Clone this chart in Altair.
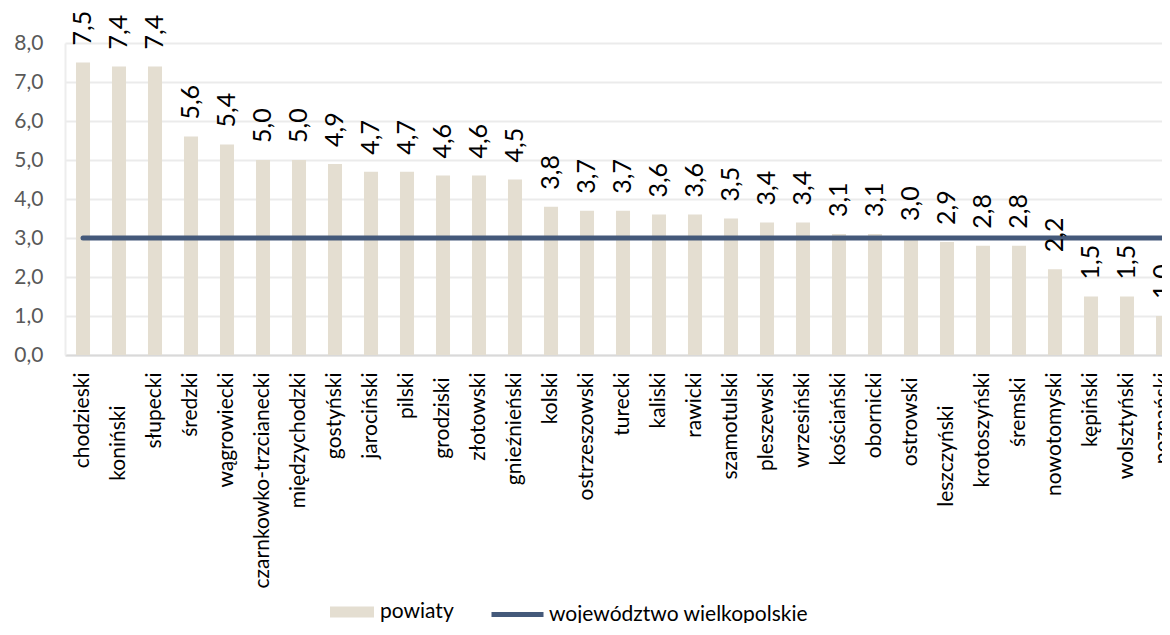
import altair as alt
import pandas as pd

powiaty = ["chodzieski", "koniński", "słupecki", "średzki", "wągrowiecki",
           "czarnkowko-trzcianecki", "międzychodzki", "gostyński", "jarociński",
           "pilski", "grodziski", "złotowski", "gnieźnieński", "kolski",
           "ostrzeszowski", "turecki", "kaliski", "rawicki", "szamotulski",
           "pleszewski", "wrzesiński", "kościański", "obornicki", "ostrowski",
           "leszczyński", "krotoszyński", "śremski", "nowotomyski", "kępiński",
           "wolsztyński", "poznański"]
wartosci = [7.5, 7.4, 7.4, 5.6, 5.4, 5.0, 5.0, 4.9, 4.7, 4.7, 4.6, 4.6, 4.5, 3.8,
            3.7, 3.7, 3.6, 3.6, 3.5, 3.4, 3.4, 3.1, 3.1, 3.0, 2.9, 2.8, 2.8, 2.2,
            1.5, 1.5, 1.0]
wojewodztwo = 3.0
y_ticks = [0, 1, 2, 3, 4, 5, 6, 7, 8]
seria_bar = "powiaty"
seria_line = "województwo wielkopolskie"

df = pd.DataFrame({
    "powiat": powiaty,
    "wartosc": wartosci,
    "woj": [wojewodztwo] * len(powiaty),
    "seria": [seria_bar] * len(powiaty),
    "seria_woj": [seria_line] * len(powiaty),
})

FONT = "Lato"
FS = 21
BAR = "#E4DED1"
LINE = "#44597A"

# category labels that sit lower in the original layout: (padding, names)
label_groups = [
    (17, None),
    (22, ["grodziski", "ostrowski", "śremski"]),
    (50, ["koniński", "leszczyński"]),
]
shifted = [n for _, g in label_groups if g for n in g]

x_scale = alt.Scale(range=[0, 1116], paddingInner=0.61, paddingOuter=0.305)


def in_list(names):
    return "indexof([" + ",".join("'" + n + "'" for n in names) + "], datum.value) >= 0"


def x_axis_enc(padding, names, main):
    if names is None:
        expr = in_list(shifted) + " ? '' : datum.value"
    else:
        expr = in_list(names) + " ? datum.value : ''"
    return alt.X(
        "powiat:N", sort=powiaty, scale=x_scale,
        axis=alt.Axis(title=None, orient="bottom", labelAngle=270, labelAlign="right",
                      labelBaseline="middle", labelFont=FONT, labelFontSize=FS,
                      labelColor="#000000", labelPadding=padding, ticks=False, tickSize=0,
                      domain=main, domainColor="#D9D9D9", domainWidth=2, grid=False,
                      labelExpr=expr, labelOverlap=False, labelLimit=400),
    )


x_plain = alt.X("powiat:N", sort=powiaty, scale=x_scale, axis=None)
y_scale = alt.Scale(domain=[0, 8], nice=False)
y_plain = alt.Y("wartosc:Q", scale=y_scale, axis=None)

bars = alt.Chart(df).mark_bar().encode(
    x=x_axis_enc(17, None, True),
    y=alt.Y("wartosc:Q", scale=y_scale,
            axis=alt.Axis(title=None, orient="left", values=y_ticks,
                          labelExpr="replace(format(datum.value, '.1f'), '.', ',')",
                          labelFont=FONT, labelFontSize=FS, labelColor="#595959",
                          labelPadding=22, ticks=False, tickSize=0, labelOverlap=False,
                          domain=True, domainColor="#EDEDED", domainWidth=2,
                          grid=True, gridColor="#EBEBEB", gridWidth=2)),
    fill=alt.Fill("seria:N", scale=alt.Scale(domain=[seria_bar], range=[BAR]),
                  legend=alt.Legend(title=None, orient="none", legendX=265, legendY=547,
                                    symbolType="M-1,-0.25H1V0.25H-1Z", symbolSize=1936,
                                    symbolStrokeWidth=0, labelFont=FONT, labelFontSize=FS,
                                    labelColor="#000000", labelOffset=6, padding=0,
                                    labelLimit=500)),
)

line = alt.Chart(df).mark_line(strokeWidth=5, strokeCap="round").encode(
    x=x_plain,
    y=alt.Y("woj:Q", scale=y_scale, axis=None),
    stroke=alt.Stroke("seria_woj:N", scale=alt.Scale(domain=[seria_line], range=[LINE]),
                      legend=alt.Legend(title=None, orient="none", legendX=424, legendY=543,
                                        symbolType="stroke", symbolSize=2704,
                                        symbolStrokeWidth=5, labelFont=FONT,
                                        labelFontSize=FS, labelColor="#000000",
                                        labelOffset=3, padding=0, labelLimit=500)),
)

labels = alt.Chart(df).transform_calculate(
    txt="replace(format(datum.wartosc, '.1f'), '.', ',')"
).mark_text(angle=270, align="left", baseline="middle", dx=17, font=FONT,
            fontSize=25, color="#000000").encode(
    x=x_plain,
    y=y_plain,
    text="txt:N",
)

extra_axes = [
    alt.Chart(df).mark_point(opacity=0).encode(
        x=x_axis_enc(pad, names, False),
        y=y_plain,
    )
    for pad, names in label_groups if names
]

chart = alt.layer(bars, line, labels, *extra_axes).resolve_scale(
    fill="independent", stroke="independent"
).resolve_axis(x="independent", y="independent").properties(
    width=1097, height=312,
    autosize=alt.AutoSizeParams(type="none"),
    padding={"left": 57, "top": 35, "right": 0, "bottom": 268},
).configure_view(stroke=None)

chart.save("out.html", embed_options={"renderer": "svg", "actions": False})
